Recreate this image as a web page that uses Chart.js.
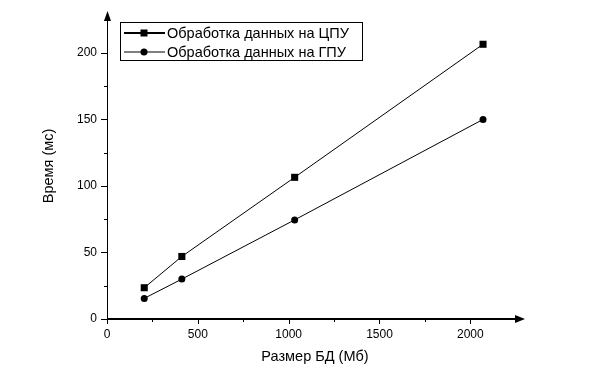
<!DOCTYPE html>
<html>
<head>
<meta charset="utf-8">
<script src="https://cdn.jsdelivr.net/npm/chart.js@4"></script>
<style>
    html, body { margin: 0; padding: 0; background: #fff; }
    canvas { display: block; }
</style>
</head>
<body>
<canvas id="chart" width="598" height="367"></canvas>
<script>
// данные с графика
const sizesMb  = [205, 412, 1033, 2070];
const cpuTimes = [23.5, 47, 106.5, 206.5];
const gpuTimes = [15.5, 30, 74.5, 150];

const xTicks = [0, 500, 1000, 1500, 2000];
const yTicks = [0, 50, 100, 150, 200];
const xMinor = [250, 750, 1250, 1750, 2250];
const yMinor = [25, 75, 125, 175, 225];

const seriesNames = ['Обработка данных на ЦПУ', 'Обработка данных на ГПУ'];
const xTitle = 'Размер БД (Мб)';
const yTitle = 'Время (мс)';

const FONT = 'Liberation Sans, Arial, sans-serif';

const toPoints = (xs, ys) => xs.map((x, i) => ({ x: x, y: ys[i] }));

// оси со стрелками и засечками
const axesPlugin = {
    id: 'axesPlugin',
    afterDraw(chart) {
        const ctx = chart.ctx;
        const a = chart.chartArea;
        const xs = chart.scales.x, ys = chart.scales.y;
        ctx.save();
        ctx.strokeStyle = '#000';
        ctx.fillStyle = '#000';

        // y axis
        ctx.lineWidth = 1;
        ctx.beginPath();
        ctx.moveTo(a.left + 0.5, a.bottom);
        ctx.lineTo(a.left + 0.5, a.top + 4);
        ctx.stroke();
        ctx.beginPath();
        ctx.moveTo(a.left + 0.5, a.top - 2);
        ctx.lineTo(a.left - 3, a.top + 8);
        ctx.lineTo(a.left + 4, a.top + 8);
        ctx.closePath();
        ctx.fill();

        yTicks.forEach(v => {
            const y = Math.round(ys.getPixelForValue(v)) + 0.5;
            ctx.beginPath();
            ctx.moveTo(a.left - 6, y);
            ctx.lineTo(a.left, y);
            ctx.stroke();
        });
        yMinor.forEach(v => {
            const y = Math.round(ys.getPixelForValue(v)) + 0.5;
            ctx.beginPath();
            ctx.moveTo(a.left - 3, y);
            ctx.lineTo(a.left, y);
            ctx.stroke();
        });

        // x axis
        ctx.lineWidth = 2;
        ctx.beginPath();
        ctx.moveTo(a.left, a.bottom);
        ctx.lineTo(a.right - 4, a.bottom);
        ctx.stroke();
        ctx.beginPath();
        ctx.moveTo(a.right + 2, a.bottom);
        ctx.lineTo(a.right - 8, a.bottom - 4);
        ctx.lineTo(a.right - 8, a.bottom + 4);
        ctx.closePath();
        ctx.fill();

        ctx.lineWidth = 1;
        xTicks.forEach(v => {
            const x = Math.round(xs.getPixelForValue(v)) + 0.5;
            ctx.beginPath();
            ctx.moveTo(x, a.bottom);
            ctx.lineTo(x, a.bottom + 5);
            ctx.stroke();
        });
        xMinor.forEach(v => {
            const x = Math.round(xs.getPixelForValue(v)) + 0.5;
            ctx.beginPath();
            ctx.moveTo(x, a.bottom);
            ctx.lineTo(x, a.bottom + 3);
            ctx.stroke();
        });
        ctx.restore();
    }
};

// легенда в рамке
const boxLegend = {
    id: 'boxLegend',
    afterDraw(chart) {
        const ctx = chart.ctx;
        const left = 120, top = 22, w = 242, h = 38;
        ctx.save();
        ctx.strokeStyle = '#000';
        ctx.lineWidth = 1;
        ctx.strokeRect(left + 0.5, top + 0.5, w, h);

        chart.data.datasets.forEach((ds, i) => {
            const cy = top + 11 + i * 19;
            ctx.lineWidth = i === 0 ? 2 : 1;
            ctx.beginPath();
            ctx.moveTo(left + 4, cy);
            ctx.lineTo(left + 45, cy);
            ctx.stroke();
            const cx = left + 24;
            ctx.fillStyle = '#000';
            if (ds.pointStyle === 'rect') {
                ctx.fillRect(cx - 3.5, cy - 3.5, 7, 7);
            } else {
                ctx.beginPath();
                ctx.arc(cx, cy, 3.5, 0, Math.PI * 2);
                ctx.fill();
            }
            ctx.font = '14.5px ' + FONT;
            ctx.textBaseline = 'middle';
            ctx.fillText(ds.label, left + 47, cy + 1);
        });
        ctx.restore();
    }
};

new Chart(document.getElementById('chart'), {
    type: 'scatter',
    data: {
        datasets: [
            {
                label: seriesNames[0],
                data: toPoints(sizesMb, cpuTimes),
                showLine: true,
                borderColor: '#000',
                borderWidth: 1,
                backgroundColor: '#000',
                pointStyle: 'rect',
                pointRadius: 5,
                pointBorderWidth: 0
            },
            {
                label: seriesNames[1],
                data: toPoints(sizesMb, gpuTimes),
                showLine: true,
                borderColor: '#000',
                borderWidth: 1,
                backgroundColor: '#000',
                pointStyle: 'circle',
                pointRadius: 3.5,
                pointBorderWidth: 0
            }
        ]
    },
    options: {
        responsive: false,
        animation: false,
        layout: { padding: { left: 0, right: 75, top: 13, bottom: 0 } },
        plugins: {
            legend: { display: false },
            tooltip: { enabled: false }
        },
        scales: {
            x: {
                type: 'linear',
                min: 0,
                max: 2290,
                grid: { display: false, drawTicks: false },
                border: { display: false },
                afterBuildTicks: s => { s.ticks = xTicks.map(v => ({ value: v })); },
                afterFit: s => { s.height = 48; },
                ticks: {
                    color: '#000', padding: 8, font: { family: FONT, size: 12 }, maxRotation: 0,
                    callback: v => String(v)
                },
                title: {
                    display: true, text: xTitle, color: '#000',
                    font: { family: FONT, size: 14.5 }, padding: { top: 0, bottom: 1 }
                }
            },
            y: {
                type: 'linear',
                min: 0,
                max: 230,
                grid: { display: false, drawTicks: false },
                border: { display: false },
                afterBuildTicks: s => { s.ticks = yTicks.map(v => ({ value: v })); },
                afterFit: s => { s.width = 107; s.paddingTop = 0; s.paddingBottom = 0; },
                ticks: {
                    color: '#000', padding: 10, font: { family: FONT, size: 12 },
                    callback: v => String(v)
                },
                title: {
                    display: true, text: yTitle, color: '#000',
                    font: { family: FONT, size: 14.5 }, padding: { top: 40, bottom: 0 }
                }
            }
        }
    },
    plugins: [axesPlugin, boxLegend]
});
</script>
</body>
</html>
